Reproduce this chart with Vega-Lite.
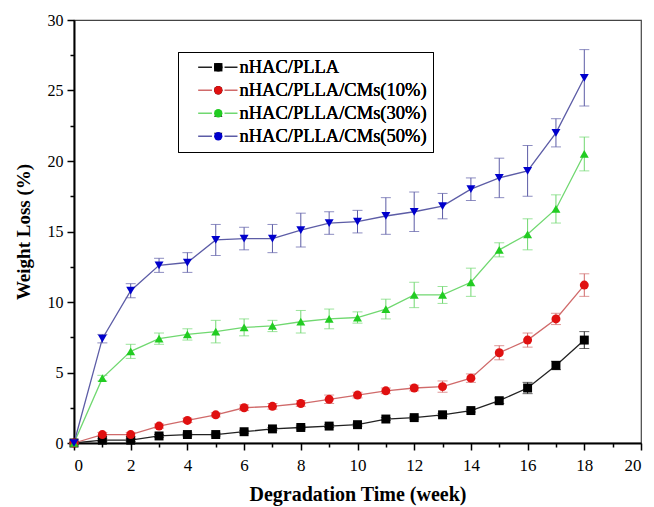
{
  "$schema": "https://vega.github.io/schema/vega-lite/v6.json",
  "width": 567,
  "height": 423,
  "padding": {"left": 74, "top": 20, "right": 13, "bottom": 64},
  "autosize": {"type": "none"},
  "background": "white",
  "config": {
    "view": {"stroke": "#444", "strokeWidth": 1.2},
    "font": "Liberation Serif"
  },
  "data": {"values": [
    {"week":0,"series":"nHAC/PLLA","loss":0,"err":0},
    {"week":1,"series":"nHAC/PLLA","loss":0.2,"err":0.1},
    {"week":2,"series":"nHAC/PLLA","loss":0.2,"err":0.1},
    {"week":3,"series":"nHAC/PLLA","loss":0.5,"err":0.1},
    {"week":4,"series":"nHAC/PLLA","loss":0.6,"err":0.1},
    {"week":5,"series":"nHAC/PLLA","loss":0.6,"err":0.1},
    {"week":6,"series":"nHAC/PLLA","loss":0.8,"err":0.1},
    {"week":7,"series":"nHAC/PLLA","loss":1.0,"err":0.1},
    {"week":8,"series":"nHAC/PLLA","loss":1.1,"err":0.1},
    {"week":9,"series":"nHAC/PLLA","loss":1.2,"err":0.1},
    {"week":10,"series":"nHAC/PLLA","loss":1.3,"err":0.1},
    {"week":11,"series":"nHAC/PLLA","loss":1.7,"err":0.1},
    {"week":12,"series":"nHAC/PLLA","loss":1.8,"err":0.1},
    {"week":13,"series":"nHAC/PLLA","loss":2.0,"err":0.1},
    {"week":14,"series":"nHAC/PLLA","loss":2.3,"err":0.1},
    {"week":15,"series":"nHAC/PLLA","loss":3.0,"err":0.2},
    {"week":16,"series":"nHAC/PLLA","loss":3.9,"err":0.4},
    {"week":17,"series":"nHAC/PLLA","loss":5.5,"err":0.3},
    {"week":18,"series":"nHAC/PLLA","loss":7.3,"err":0.6},
    {"week":0,"series":"nHAC/PLLA/CMs(10%)","loss":0,"err":0},
    {"week":1,"series":"nHAC/PLLA/CMs(10%)","loss":0.6,"err":0.15},
    {"week":2,"series":"nHAC/PLLA/CMs(10%)","loss":0.6,"err":0.15},
    {"week":3,"series":"nHAC/PLLA/CMs(10%)","loss":1.2,"err":0.15},
    {"week":4,"series":"nHAC/PLLA/CMs(10%)","loss":1.6,"err":0.15},
    {"week":5,"series":"nHAC/PLLA/CMs(10%)","loss":2.0,"err":0.15},
    {"week":6,"series":"nHAC/PLLA/CMs(10%)","loss":2.5,"err":0.2},
    {"week":7,"series":"nHAC/PLLA/CMs(10%)","loss":2.6,"err":0.2},
    {"week":8,"series":"nHAC/PLLA/CMs(10%)","loss":2.8,"err":0.2},
    {"week":9,"series":"nHAC/PLLA/CMs(10%)","loss":3.1,"err":0.3},
    {"week":10,"series":"nHAC/PLLA/CMs(10%)","loss":3.4,"err":0.2},
    {"week":11,"series":"nHAC/PLLA/CMs(10%)","loss":3.7,"err":0.2},
    {"week":12,"series":"nHAC/PLLA/CMs(10%)","loss":3.9,"err":0.2},
    {"week":13,"series":"nHAC/PLLA/CMs(10%)","loss":4.0,"err":0.4},
    {"week":14,"series":"nHAC/PLLA/CMs(10%)","loss":4.6,"err":0.3},
    {"week":15,"series":"nHAC/PLLA/CMs(10%)","loss":6.4,"err":0.5},
    {"week":16,"series":"nHAC/PLLA/CMs(10%)","loss":7.3,"err":0.5},
    {"week":17,"series":"nHAC/PLLA/CMs(10%)","loss":8.8,"err":0.4},
    {"week":18,"series":"nHAC/PLLA/CMs(10%)","loss":11.2,"err":0.8},
    {"week":0,"series":"nHAC/PLLA/CMs(30%)","loss":0,"err":0},
    {"week":1,"series":"nHAC/PLLA/CMs(30%)","loss":4.6,"err":0.2},
    {"week":2,"series":"nHAC/PLLA/CMs(30%)","loss":6.5,"err":0.5},
    {"week":3,"series":"nHAC/PLLA/CMs(30%)","loss":7.4,"err":0.4},
    {"week":4,"series":"nHAC/PLLA/CMs(30%)","loss":7.7,"err":0.4},
    {"week":5,"series":"nHAC/PLLA/CMs(30%)","loss":7.9,"err":0.8},
    {"week":6,"series":"nHAC/PLLA/CMs(30%)","loss":8.2,"err":0.6},
    {"week":7,"series":"nHAC/PLLA/CMs(30%)","loss":8.3,"err":0.4},
    {"week":8,"series":"nHAC/PLLA/CMs(30%)","loss":8.6,"err":0.8},
    {"week":9,"series":"nHAC/PLLA/CMs(30%)","loss":8.8,"err":0.7},
    {"week":10,"series":"nHAC/PLLA/CMs(30%)","loss":8.9,"err":0.4},
    {"week":11,"series":"nHAC/PLLA/CMs(30%)","loss":9.5,"err":0.7},
    {"week":12,"series":"nHAC/PLLA/CMs(30%)","loss":10.5,"err":0.9},
    {"week":13,"series":"nHAC/PLLA/CMs(30%)","loss":10.5,"err":0.6},
    {"week":14,"series":"nHAC/PLLA/CMs(30%)","loss":11.4,"err":1.0},
    {"week":15,"series":"nHAC/PLLA/CMs(30%)","loss":13.7,"err":0.5},
    {"week":16,"series":"nHAC/PLLA/CMs(30%)","loss":14.8,"err":1.1},
    {"week":17,"series":"nHAC/PLLA/CMs(30%)","loss":16.6,"err":1.0},
    {"week":18,"series":"nHAC/PLLA/CMs(30%)","loss":20.5,"err":1.2},
    {"week":0,"series":"nHAC/PLLA/CMs(50%)","loss":0,"err":0},
    {"week":1,"series":"nHAC/PLLA/CMs(50%)","loss":7.4,"err":0.3},
    {"week":2,"series":"nHAC/PLLA/CMs(50%)","loss":10.8,"err":0.5},
    {"week":3,"series":"nHAC/PLLA/CMs(50%)","loss":12.6,"err":0.5},
    {"week":4,"series":"nHAC/PLLA/CMs(50%)","loss":12.8,"err":0.7},
    {"week":5,"series":"nHAC/PLLA/CMs(50%)","loss":14.4,"err":1.1},
    {"week":6,"series":"nHAC/PLLA/CMs(50%)","loss":14.5,"err":0.8},
    {"week":7,"series":"nHAC/PLLA/CMs(50%)","loss":14.5,"err":1.0},
    {"week":8,"series":"nHAC/PLLA/CMs(50%)","loss":15.1,"err":1.2},
    {"week":9,"series":"nHAC/PLLA/CMs(50%)","loss":15.6,"err":0.8},
    {"week":10,"series":"nHAC/PLLA/CMs(50%)","loss":15.7,"err":0.8},
    {"week":11,"series":"nHAC/PLLA/CMs(50%)","loss":16.1,"err":1.3},
    {"week":12,"series":"nHAC/PLLA/CMs(50%)","loss":16.4,"err":1.4},
    {"week":13,"series":"nHAC/PLLA/CMs(50%)","loss":16.8,"err":0.9},
    {"week":14,"series":"nHAC/PLLA/CMs(50%)","loss":18.0,"err":0.8},
    {"week":15,"series":"nHAC/PLLA/CMs(50%)","loss":18.8,"err":1.4},
    {"week":16,"series":"nHAC/PLLA/CMs(50%)","loss":19.3,"err":1.8},
    {"week":17,"series":"nHAC/PLLA/CMs(50%)","loss":22.0,"err":1.0},
    {"week":18,"series":"nHAC/PLLA/CMs(50%)","loss":25.9,"err":2.0}
  ]},
  "encoding": {
    "x": {
      "field": "week", "type": "quantitative",
      "scale": {"domain": [0, 20], "nice": false},
      "axis": {
        "title": "Degradation Time (week)",
        "titleFont": "Liberation Serif", "titleFontSize": 20, "titleFontWeight": "bold", "titleColor": "black", "titlePadding": 11,
        "values": [0,1,2,3,4,5,6,7,8,9,10,11,12,13,14,15,16,17,18,19,20],
        "labelExpr": "datum.value % 2 === 0 ? datum.label : ''",
        "labelFont": "Liberation Serif", "labelFontSize": 17, "labelColor": "black", "labelPadding": 7,
        "tickSize": {"condition": {"test": "datum.value % 2 === 0", "value": 7}, "value": 4},
        "tickColor": "black", "tickWidth": 1.5,
        "domainColor": "black", "domainWidth": 2, "grid": false
      }
    },
    "y": {
      "field": "loss", "type": "quantitative",
      "scale": {"domain": [0, 30], "nice": false},
      "axis": {
        "title": "Weight Loss (%)",
        "titleFont": "Liberation Serif", "titleFontSize": 19, "titleFontWeight": "bold", "titleColor": "black", "titlePadding": 14,
        "values": [0,2.5,5,7.5,10,12.5,15,17.5,20,22.5,25,27.5,30],
        "labelExpr": "datum.value % 5 === 0 ? datum.label : ''",
        "labelFont": "Liberation Serif", "labelFontSize": 16, "labelColor": "black", "labelPadding": 4,
        "tickSize": {"condition": {"test": "datum.value % 5 === 0", "value": 7}, "value": 4},
        "tickColor": "black", "tickWidth": 1.5,
        "domainColor": "black", "domainWidth": 2, "grid": false
      }
    }
  },
  "layer": [
    {
      "mark": {"type": "line", "strokeWidth": 1.3},
      "encoding": {
        "color": {
          "field": "series", "type": "nominal",
          "scale": {"domain": ["nHAC/PLLA","nHAC/PLLA/CMs(10%)","nHAC/PLLA/CMs(30%)","nHAC/PLLA/CMs(50%)"],
                    "range": ["#222222", "#d06a6a", "#70d870", "#5c5ca6"]},
          "legend": {
            "title": null, "orient": "none", "legendX": 104, "legendY": 32,
            "padding": 6, "symbolOffset": 25, "symbolSize": 70, "labelOffset": 12,
            "symbolType": "M-4.8,0H-1.5M1.5,0H4.6", "symbolStrokeWidth": 1.5,
            "labelFont": "Liberation Serif", "labelFontSize": 18.5, "labelColor": "black",
            "rowPadding": 4, "labelLimit": 400
          }
        }
      }
    },
    {
      "mark": {"type": "errorbar", "ticks": {"size": 10}},
      "encoding": {
        "yError": {"field": "err"},
        "color": {
          "field": "series", "type": "nominal", "legend": null,
          "scale": {"domain": ["nHAC/PLLA","nHAC/PLLA/CMs(10%)","nHAC/PLLA/CMs(30%)","nHAC/PLLA/CMs(50%)"],
                    "range": ["#222222", "#d06a6a", "#70d870", "#5c5ca6"]}
        }
      }
    },
    {
      "mark": {"type": "point", "filled": true, "size": 80, "opacity": 1},
      "encoding": {
        "color": {
          "field": "series", "type": "nominal",
          "scale": {"domain": ["nHAC/PLLA","nHAC/PLLA/CMs(10%)","nHAC/PLLA/CMs(30%)","nHAC/PLLA/CMs(50%)"],
                    "range": ["#000000", "#e01010", "#22cc22", "#0000cc"]},
          "legend": {
            "title": null, "orient": "none", "legendX": 104, "legendY": 32,
            "strokeColor": "black", "padding": 6, "symbolOffset": 25, "symbolSize": 70, "labelOffset": 12,
            "labelFont": "Liberation Serif", "labelFontSize": 18.5, "labelColor": "black",
            "rowPadding": 4, "labelLimit": 400,
            "encode": {"legend": {"update": {"strokeWidth": {"value": 1.5}}}}
          }
        },
        "shape": {
          "field": "series", "type": "nominal",
          "scale": {"domain": ["nHAC/PLLA","nHAC/PLLA/CMs(10%)","nHAC/PLLA/CMs(30%)","nHAC/PLLA/CMs(50%)"],
                    "range": ["square", "circle", "triangle-up", "triangle-down"]},
          "legend": {
            "title": null, "orient": "none", "legendX": 104, "legendY": 32,
            "strokeColor": "black", "padding": 6, "symbolOffset": 25, "symbolSize": 70, "labelOffset": 12,
            "labelFont": "Liberation Serif", "labelFontSize": 18.5, "labelColor": "black",
            "rowPadding": 4, "labelLimit": 400,
            "encode": {"legend": {"update": {"strokeWidth": {"value": 1.5}}}}
          }
        }
      }
    }
  ],
  "resolve": {"scale": {"color": "independent"}}
}
